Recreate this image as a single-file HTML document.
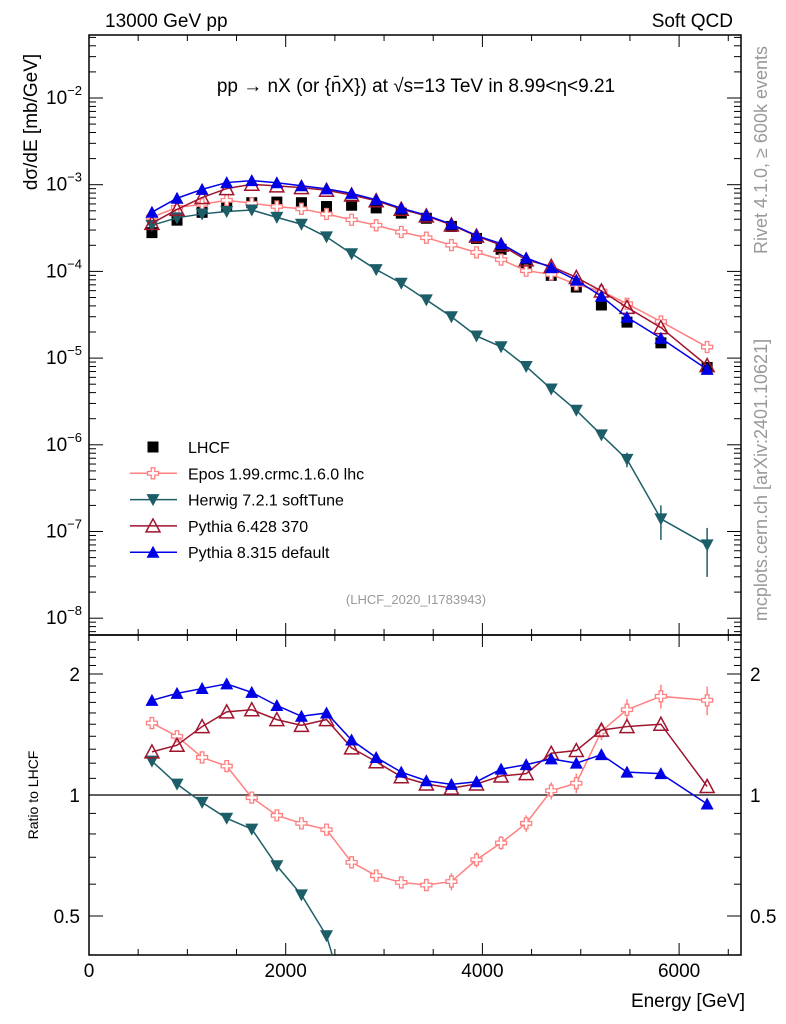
<!DOCTYPE html>
<html><head><meta charset="utf-8"><style>
html,body{margin:0;padding:0;background:#fff;width:786px;height:1024px;overflow:hidden;}
svg{display:block;font-family:"Liberation Sans",sans-serif;}
</style></head><body>
<svg id="chart" width="786" height="1024" viewBox="0 0 786 1024" xmlns="http://www.w3.org/2000/svg">
<g id="axes"></g>
<g id="marks"></g>
<text x="105" y="27" font-size="19">13000 GeV pp</text>
<text x="733" y="27" font-size="19" text-anchor="end">Soft QCD</text>
<text x="416" y="92" font-size="19" text-anchor="middle">pp → nX (or {n̄X}) at √s=13 TeV in 8.99&lt;η&lt;9.21</text>
<text transform="translate(37,122) rotate(-90)" font-size="19" text-anchor="middle">dσ/dE [mb/GeV]</text>
<text transform="translate(38,795) rotate(-90)" font-size="14" text-anchor="middle">Ratio to LHCF</text>
<text x="745" y="1007" font-size="19" text-anchor="end">Energy [GeV]</text>
<text transform="translate(767,150) rotate(-90)" font-size="18" fill="#999" text-anchor="middle">Rivet 4.1.0, ≥ 600k events</text>
<text transform="translate(767,480) rotate(-90)" font-size="18" fill="#999" text-anchor="middle">mcplots.cern.ch [arXiv:2401.10621]</text>
<text x="416" y="604" font-size="13" fill="#999" text-anchor="middle">(LHCF_2020_I1783943)</text>
<g id="legend"></g>
</svg>
<script>
const energies=[640,895,1150,1400,1655,1910,2160,2415,2670,2920,3175,3430,3685,3940,4190,4445,4700,4955,5210,5470,5815,6285];
const lhcf=[2.8e-4,3.9e-4,4.8e-4,5.6e-4,6.2e-4,6.3e-4,6.2e-4,5.6e-4,5.8e-4,5.4e-4,4.7e-4,4.1e-4,3.3e-4,2.4e-4,1.8e-4,1.2e-4,9.0e-5,6.6e-5,4.1e-5,2.6e-5,1.5e-5,7.8e-6];
const eposRatio=[1.51,1.40,1.24,1.18,0.985,0.89,0.85,0.82,0.68,0.63,0.606,0.597,0.609,0.69,0.76,0.85,1.025,1.07,1.44,1.63,1.76,1.72];
const eposErr=[0.02,0.02,0.02,0.02,0.02,0.02,0.02,0.02,0.02,0.02,0.02,0.02,0.03,0.03,0.03,0.04,0.05,0.06,0.07,0.1,0.12,0.14];
const py6Ratio=[1.28,1.33,1.48,1.61,1.63,1.54,1.49,1.54,1.31,1.21,1.11,1.065,1.04,1.065,1.115,1.13,1.27,1.29,1.45,1.48,1.50,1.05];
const py8Ratio=[1.72,1.79,1.84,1.89,1.80,1.67,1.57,1.60,1.37,1.24,1.14,1.085,1.063,1.079,1.16,1.19,1.23,1.20,1.26,1.14,1.13,0.95];
const herwig=[3.4e-4,4.15e-4,4.6e-4,4.9e-4,5.1e-4,4.2e-4,3.5e-4,2.5e-4,1.6e-4,1.05e-4,7.3e-5,4.7e-5,3.0e-5,1.8e-5,1.35e-5,8.0e-6,4.4e-6,2.5e-6,1.3e-6,6.8e-7,1.4e-7,7.0e-8];
const herwigErr=[0,0,0,0,0,0,0,0,0,0,0,0,0,0,0,0,0,2e-7,1.5e-7,1.3e-7,6e-8,4e-8];
const yTicks=["10^-2","10^-3","10^-4","10^-5","10^-6","10^-7","10^-8"];
const xTicks=[0,2000,4000,6000];
const rTicks=[2,1,0.5];

const NS="http://www.w3.org/2000/svg";
const L=89,R=741,T=35,MB=635,RB=955;
const X=v=>L+(v/2000)*196.7;
const Y=v=>98+(-2-Math.log10(v))*86.7;
const RY=v=>795-Math.log2(v)*121;
function mk(tag,attrs,parent){const e=document.createElementNS(NS,tag);for(const k in attrs)e.setAttribute(k,attrs[k]);parent.appendChild(e);return e;}
const ax=document.getElementById('axes'),mg=document.getElementById('marks'),lg=document.getElementById('legend');

let f1=mk('rect',{x:L,y:T,width:R-L,height:MB-T,fill:'none',stroke:'#000','stroke-width':1.5},ax);

let f2=mk('rect',{x:L,y:MB,width:R-L,height:RB-MB,fill:'none',stroke:'#000','stroke-width':1.5},ax);

for(let v=0;v<=6500;v+=500){
  const len=v%2000===0?12:6,x=X(v);
  for(const [yb,yt] of [[MB,T],[RB,MB]]){
    mk('line',{x1:x,x2:x,y1:yb,y2:yb-len,stroke:'#000'},ax);
    mk('line',{x1:x,x2:x,y1:yt,y2:yt+len,stroke:'#000'},ax);
  }
}
xTicks.forEach(v=>{const t=mk('text',{x:X(v),y:977,'font-size':19,'text-anchor':'middle'},ax);t.textContent=v;
});
for(let d=-9;d<=-1;d++){
  for(let m=1;m<10;m++){
    const v=m*Math.pow(10,d),y=Y(v);if(y<T||y>MB)continue;
    const len=m===1?14:7;
    mk('line',{x1:L,x2:L+len,y1:y,y2:y,stroke:'#000'},ax);
    mk('line',{x1:R,x2:R-len,y1:y,y2:y,stroke:'#000'},ax);
  }
}
yTicks.forEach(s=>{const e=+s.split('^')[1];const y=Y(Math.pow(10,e));
 const t=mk('text',{x:82,y:y+6,'font-size':19,'text-anchor':'end'},ax);
 t.textContent='10';const sp=mk('tspan',{dy:-9,'font-size':13},t);sp.textContent=String(e).replace('-','−');
 });
for(let v=0.4;v<=2.5;v+=0.1){const y=RY(v);const major=[0.5,1,2].some(q=>Math.abs(q-v)<1e-6);const len=major?14:7;
 mk('line',{x1:L,x2:L+len,y1:y,y2:y,stroke:'#000'},ax);mk('line',{x1:R,x2:R-len,y1:y,y2:y,stroke:'#000'},ax);}
rTicks.forEach(v=>{const y=RY(v)+7;
 let t=mk('text',{x:80,y:y,'font-size':19,'text-anchor':'end'},ax);t.textContent=v;
 
 t=mk('text',{x:750,y:y,'font-size':19},ax);t.textContent=v;
 });
mk('line',{x1:L,x2:R,y1:RY(1),y2:RY(1),stroke:'#000','stroke-width':1.2},ax);

function marker(type,x,y,c,p){
  if(type==='sq')return mk('rect',{x:x-5.5,y:y-5.5,width:11,height:11,fill:c},p);
  if(type==='cross')return mk('path',{d:`M${x-1.8},${y-5.5}h3.6v3.7h3.7v3.6h-3.7v3.7h-3.6v-3.7h-3.7v-3.6h3.7z`,fill:'#fff',stroke:c,'stroke-width':1.3},p);
  if(type==='down')return mk('path',{d:`M${x-6.5},${y-5.5}L${x+6.5},${y-5.5}L${x},${y+6.5}z`,fill:c},p);
  if(type==='up')return mk('path',{d:`M${x-6.5},${y+5.5}L${x+6.5},${y+5.5}L${x},${y-6.5}z`,fill:c},p);
  if(type==='upo')return mk('path',{d:`M${x-7},${y+6}L${x+7},${y+6}L${x},${y-7}z`,fill:'none',stroke:c,'stroke-width':1.5},p);
}
function series(name,xs,ys,col,type,yf,clipTop,clipBot,errs){
  const g=mk('g',{},mg);
  
  
  const pts=xs.map((v,i)=>[X(v),yf(ys[i])]);
  if(type!=='sq'){
    // build polyline, truncating at the panel bottom
    const line=[];
    for(let i=0;i<pts.length;i++){
      const p=pts[i];
      if(p[1]<=clipBot){line.push(p);continue;}
      if(i>0&&pts[i-1][1]<=clipBot){const q=pts[i-1];const t=(clipBot-q[1])/(p[1]-q[1]);line.push([q[0]+t*(p[0]-q[0]),clipBot]);}
      break;
    }
    mk('polyline',{points:line.map(p=>p.join(',')).join(' '),fill:'none',stroke:col,'stroke-width':1.5},g);
  }
  pts.forEach((p,i)=>{
    if(p[1]<clipTop-3||p[1]>clipBot-6)return;
    if(errs&&errs[i]){const v=ys[i];mk('line',{x1:p[0],x2:p[0],y1:yf(v+errs[i]),y2:yf(Math.max(v-errs[i],v*0.05)),stroke:col,'stroke-width':1.5},g);}
    const m=marker(type,p[0],p[1],col,g);
    
    
  });
}
const C={epos:'#ff8080',herwig:'#1c5e68',py6:'#a0142e',py8:'#0000e6'};
const eposAbs=lhcf.map((v,i)=>v*eposRatio[i]);
const py6Abs=lhcf.map((v,i)=>v*py6Ratio[i]);
const py8Abs=lhcf.map((v,i)=>v*py8Ratio[i]);
const herwigRatio=herwig.map((v,i)=>v/lhcf[i]);
series('lhcf-data',energies,lhcf,'#000','sq',Y,T,MB);
series('epos-curve',energies,eposAbs,C.epos,'cross',Y,T,MB);
series('herwig-curve',energies,herwig,C.herwig,'down',Y,T,MB,herwigErr);
series('pythia6-curve',energies,py6Abs,C.py6,'upo',Y,T,MB);
series('pythia8-curve',energies,py8Abs,C.py8,'up',Y,T,MB);
series('epos-ratio',energies,eposRatio,C.epos,'cross',RY,MB,RB,eposErr);
series('herwig-ratio',energies,herwigRatio,C.herwig,'down',RY,MB,RB);
series('pythia6-ratio',energies,py6Ratio,C.py6,'upo',RY,MB,RB);
series('pythia8-ratio',energies,py8Ratio,C.py8,'up',RY,MB,RB);
const legendLabels=['LHCF','Epos 1.99.crmc.1.6.0 lhc','Herwig 7.2.1 softTune','Pythia 6.428 370','Pythia 8.315 default'];
const legendTypes=['sq','cross','down','upo','up'];
const legendCols=['#000',C.epos,C.herwig,C.py6,C.py8];
legendLabels.forEach((s,i)=>{
  const y=447+i*26.3;
  const g=mk('g',{},lg);
  
  
  if(i>0)mk('line',{x1:130,x2:177,y1:y,y2:y,stroke:legendCols[i],'stroke-width':1.5},g);
  marker(legendTypes[i],153,y,legendCols[i],g);
  const t=mk('text',{x:188,y:y+6,'font-size':16},g);t.textContent=s;
});
</script>
</body></html>
